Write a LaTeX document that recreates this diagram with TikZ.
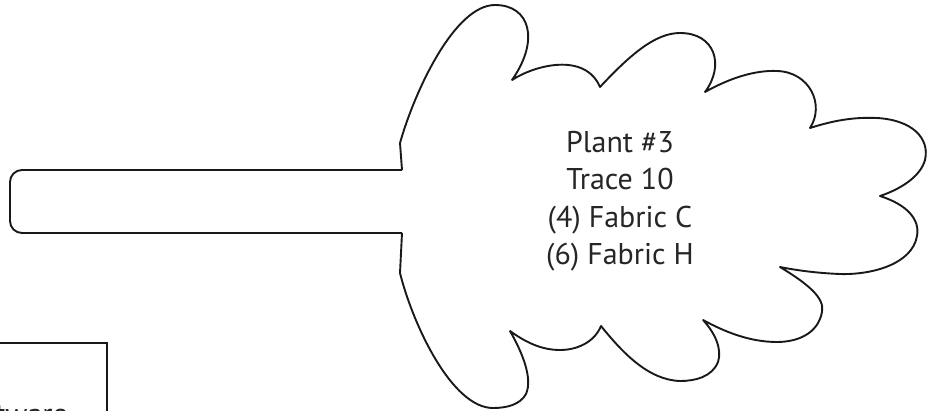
\documentclass[tikz,border=0pt]{standalone}
\usepackage{fontspec}
\setmainfont{PT Sans}
\begin{document}
\begin{tikzpicture}[x=1pt,y=-1pt,
  outline/.style={draw=black!90,line width=1.9pt,line join=round},
  cloudtext/.style={align=center,font=\fontsize{30}{37.5}\selectfont,text=black!85}]
\useasboundingbox (0,0) rectangle (927,410);
\clip (0,0) rectangle (927,410);
% cloud with stem
\draw[outline]
  (402,170) -- (400,143)
  .. controls (415,90) and (455,5) .. (495,5)
  .. controls (530,5) and (540,40) .. (512,80)
  .. controls (535,65) and (585,52) .. (600,87)
  .. controls (630,55) and (655,33) .. (680,33)
  .. controls (715,33) and (725,65) .. (705,92)
  .. controls (730,78) and (755,70) .. (777,71)
  .. controls (810,72) and (825,105) .. (810,128)
  .. controls (835,120) and (855,117) .. (877,118)
  .. controls (912,120) and (930,138) .. (925,160)
  .. controls (920,178) and (898,190) .. (880,196)
  .. controls (908,205) and (920,220) .. (917,236)
  .. controls (912,265) and (870,275) .. (840,274)
  .. controls (815,273) and (795,270) .. (780,267)
  .. controls (808,284) and (825,298) .. (822,312)
  .. controls (818,334) and (797,342) .. (777,342)
  .. controls (750,342) and (725,332) .. (703,320)
  .. controls (716,334) and (722,350) .. (718,362)
  .. controls (712,377) and (695,381) .. (680,381)
  .. controls (648,380) and (622,352) .. (601,326)
  .. controls (594,343) and (576,350) .. (560,350)
  .. controls (540,350) and (524,341) .. (510,331)
  .. controls (522,352) and (533,378) .. (526,394)
  .. controls (520,405) and (506,408) .. (493,408)
  .. controls (452,408) and (413,325) .. (400,273)
  -- (402,233);
\draw[outline,rounded corners=12pt] (402,233) -- (10,233) -- (10,170) -- (402,170);
\node[cloudtext] (label) at (620,201) {Plant \#3\\Trace 10\\(4) Fabric C\\(6) Fabric H};
% partial box at bottom left
\coordinate (bl) at (-5,343);
\coordinate (bc) at (107,343);
\coordinate (bb) at (107,420);
\draw[outline,line join=miter] (bl) -- (bc) -- (bb);
\node[cloudtext,anchor=base east,inner sep=0pt] (sw) at (68,424) {Software};
\end{tikzpicture}
\end{document}
